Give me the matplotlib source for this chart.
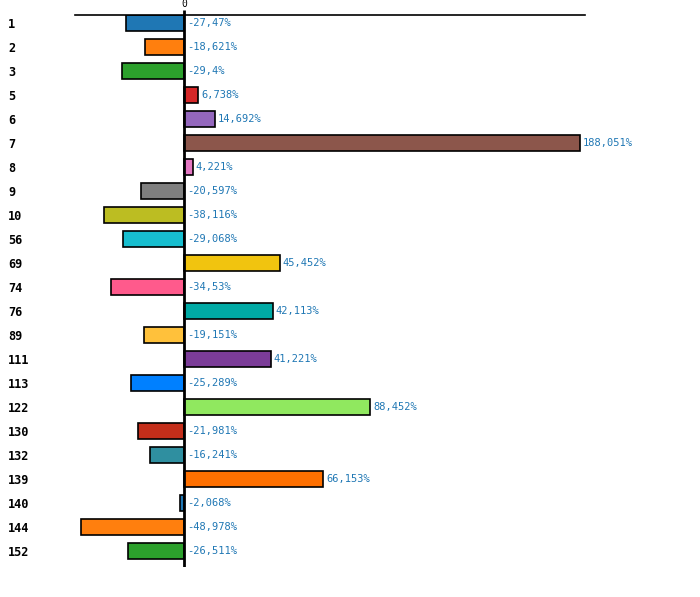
import matplotlib
matplotlib.use("Agg")
import matplotlib.pyplot as plt
from matplotlib.transforms import offset_copy

# data
categories = ["1", "2", "3", "5", "6", "7", "8", "9", "10", "56", "69", "74",
              "76", "89", "111", "113", "122", "130", "132", "139", "140", "144", "152"]
values = [-27.47, -18.621, -29.4, 6.738, 14.692, 188.051, 4.221, -20.597, -38.116,
          -29.068, 45.452, -34.53, 42.113, -19.151, 41.221, -25.289, 88.452,
          -21.981, -16.241, 66.153, -2.068, -48.978, -26.511]
value_labels = ["-27,47%", "-18,621%", "-29,4%", "6,738%", "14,692%", "188,051%",
                "4,221%", "-20,597%", "-38,116%", "-29,068%", "45,452%", "-34,53%",
                "42,113%", "-19,151%", "41,221%", "-25,289%", "88,452%", "-21,981%",
                "-16,241%", "66,153%", "-2,068%", "-48,978%", "-26,511%"]
colors = ["#1f77b4", "#ff7f0e", "#2ca02c", "#d62728", "#9467bd", "#8c564b", "#e377c2",
          "#7f7f7f", "#bcbd22", "#17becf", "#f1c40f", "#ff5a8c", "#00aaa5", "#ffc13b",
          "#7b3c98", "#0080ff", "#90e85f", "#c42e1a", "#2f8fa0", "#ff7000", "#1f77b4",
          "#ff7f0e", "#2ca02c"]

plt.rcParams['font.family'] = ['DejaVu Sans Mono']

fig = plt.figure(figsize=(7, 5.97), dpi=100)
ax = fig.add_axes([75 / 700, 1 - 567 / 597, 510 / 700, 552 / 597])

ypos = list(range(len(categories)))
ax.barh(ypos, values, height=0.65, color=colors, edgecolor="black", linewidth=1.2, zorder=2)

for y, v, lab in zip(ypos, values, value_labels):
    x = max(v, 0)
    t = offset_copy(ax.transData, fig=fig, x=3, y=0, units="dots")
    ax.text(x, y, lab, transform=t, ha="left", va="center",
            fontsize=7.5, color="#1f77b4")

ax.axvline(0, color="black", linewidth=2, zorder=3)

ax.set_xlim(-51.8, 190.5)
ax.set_ylim(22.667, -0.333)

ax.xaxis.tick_top()
ax.set_xticks([0])
ax.set_xticklabels(["0"], fontsize=7)
ax.tick_params(axis="x", length=3.6, width=2, pad=0.5)

ax.set_yticks(ypos)
ax.set_yticklabels(categories, fontsize=8.6, fontweight="bold", ha="left")
ax.tick_params(axis="y", length=0, pad=48.2)

for s in ["left", "right", "bottom"]:
    ax.spines[s].set_visible(False)
ax.spines["top"].set_linewidth(1.2)

fig.savefig("out.png", dpi=100)
